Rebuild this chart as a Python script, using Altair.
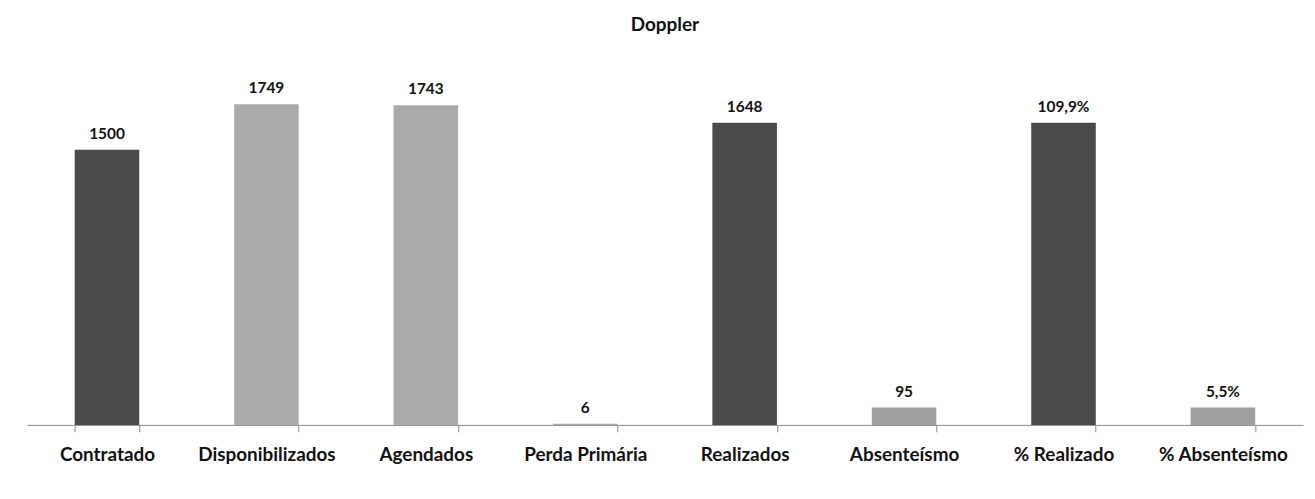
import altair as alt
import pandas as pd

categories = ["Contratado", "Disponibilizados", "Agendados", "Perda Primária",
              "Realizados", "Absenteísmo", "% Realizado", "% Absenteísmo"]
bar_heights = [1500, 1749, 1743, 6, 1648, 95, 1648, 95]
value_labels = ["1500", "1749", "1743", "6", "1648", "95", "109,9%", "5,5%"]

bar_colors = ["#4a4a4a", "#ababab", "#ababab", "#ababab",
              "#4a4a4a", "#a0a0a0", "#4a4a4a", "#a0a0a0"]

df = pd.DataFrame({"cat": categories, "val": bar_heights, "lab": value_labels})

FONT = "Lato"

x = alt.X("cat:N", sort=categories, title=None,
          scale=alt.Scale(paddingInner=0.595, paddingOuter=0.3),
          axis=alt.Axis(labelAngle=0, labelFont=FONT, labelFontSize=19,
                        labelFontWeight="bold", labelColor="#111111",
                        labelPadding=14, tickBand="extent", tickSize=7,
                        tickColor="#8a8a8a", domainColor="#8a8a8a",
                        domainWidth=1, tickWidth=1, labelLimit=300))
y = alt.Y("val:Q", scale=alt.Scale(domain=[0, 2000], nice=False), axis=None)

bars = alt.Chart(df).mark_bar().encode(
    x=x, y=y,
    color=alt.Color("cat:N", scale=alt.Scale(domain=categories, range=bar_colors),
                    legend=None),
)
text = alt.Chart(df).mark_text(dy=-16, font=FONT, fontSize=15.5, fontWeight="bold",
                               color="#111111").encode(
    x=alt.X("cat:N", sort=categories), y=y, text="lab:N")

chart = (bars + text).properties(
    width=1284, height=369,
    autosize=alt.AutoSizeParams(type="none"),
    padding={"left": 19, "top": 49, "right": 4, "bottom": 60},
    title=alt.TitleParams("Doppler", font=FONT, fontSize=19, fontWeight="bold",
                          color="#111111", anchor="middle", offset=23),
).configure_view(stroke=None)

chart.save("out.html", embed_options={"renderer": "svg", "actions": False})
